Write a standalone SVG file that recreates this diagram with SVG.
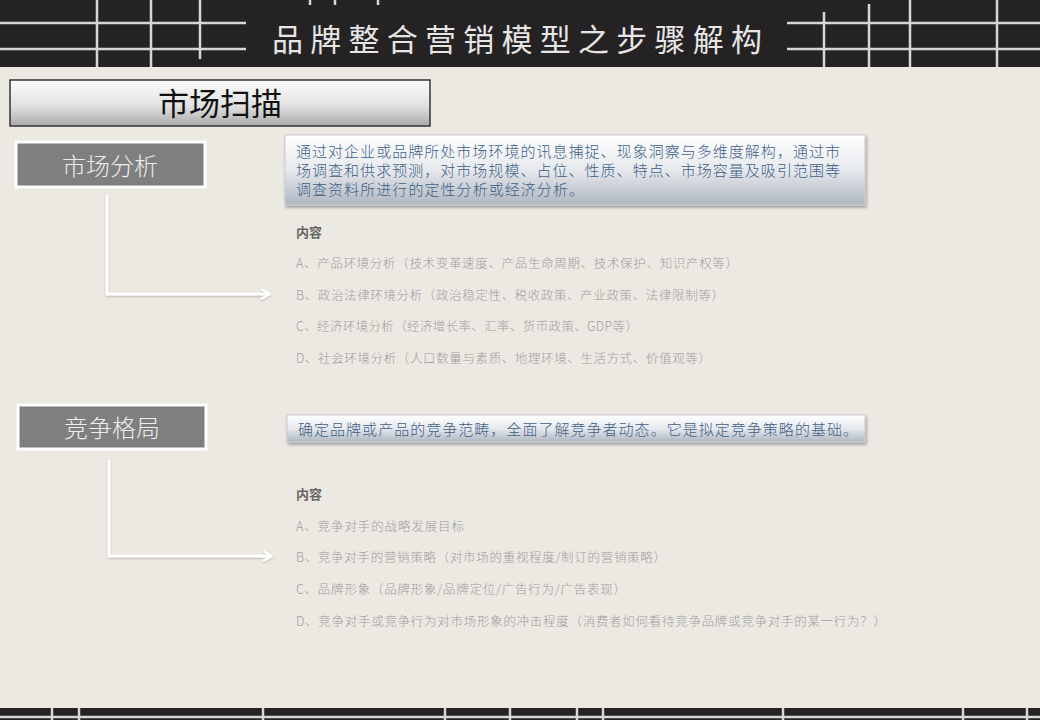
<svg xmlns="http://www.w3.org/2000/svg" width="1040" height="720" viewBox="0 0 1040 720">
<defs>
<style>
.bar{fill:#252224}
.gl{stroke:#d6d6d6;stroke-width:2.5;fill:none}
.cjk{font-family:"Noto Sans CJK SC","Noto Sans",sans-serif}
.node rect{fill:#7f7f7f;stroke:#ffffff;stroke-width:3}
.node text{fill:#ededed;font-size:24px;text-anchor:middle;font-weight:300}
.desc rect{fill:url(#dg);stroke:#c9cdd2;stroke-width:1;filter:url(#sh)}
.desc text{fill:#3f6088;font-size:15px;font-weight:300}
.head{fill:#666666;font-size:13px;font-weight:bold}
.item{fill:#9e9e9e;font-size:12.5px;font-weight:300}
.conn{stroke:#ffffff;stroke-width:2.8;fill:none;marker-end:url(#ah);filter:url(#ls)}
</style>
<linearGradient id="dg" x1="0" y1="0" x2="0" y2="1">
<stop offset="0" stop-color="#ffffff"/>
<stop offset="0.5" stop-color="#e6e9ed"/>
<stop offset="1" stop-color="#aeb6c0"/>
</linearGradient>
<linearGradient id="hg" x1="0" y1="0" x2="0" y2="1">
<stop offset="0" stop-color="#fbfbfb"/>
<stop offset="0.55" stop-color="#e2e2e2"/>
<stop offset="1" stop-color="#a9a9a9"/>
</linearGradient>
<filter id="sh" x="-5%" y="-20%" width="110%" height="150%">
<feDropShadow dx="1" dy="2" stdDeviation="1.5" flood-color="#000" flood-opacity="0.35"/>
</filter>
<filter id="ls" x="-10%" y="-10%" width="120%" height="130%">
<feDropShadow dx="0" dy="1" stdDeviation="0.8" flood-color="#000" flood-opacity="0.25"/>
</filter>
<marker id="ah" viewBox="0 0 12 12" refX="11" refY="6" markerWidth="12" markerHeight="12" markerUnits="userSpaceOnUse" orient="auto">
<path d="M2,1 L11,6 L2,11" fill="none" stroke="#ffffff" stroke-width="2.2"/>
</marker>
</defs>

<rect width="1040" height="720" fill="#ece8e2"/>

<g id="topbar">
<rect class="bar" x="0" y="0" width="1040" height="67"/>
<path class="gl" d="M0,23 H246 M0,49 H246 M97,0 V67 M151,0 V67 M200,0 V59 M787,23 H1040 M787,49 H1040 M824,12 V67 M869,4 V67 M910,0 V67 M997,0 V67"/>
<path class="gl" d="M310,0 V5 M335,0 V5 M378,0 V5" stroke-width="2"/>
<text class="cjk" x="272" y="51" font-size="31" fill="#e6e6e6" textLength="490" lengthAdjust="spacing">品牌整合营销模型之步骤解构</text>
</g>

<g id="bottombar">
<rect class="bar" x="0" y="708" width="1040" height="12"/>
<path class="gl" d="M0,717 H1040 M52,708 V720 M79,708 V720 M263,708 V720 M445,708 V720 M510,708 V720 M577,708 V720 M603,708 V720 M783,708 V720 M963,708 V720 M1027,708 V720" stroke-width="1.5"/>
</g>

<g id="section-header">
<rect x="10" y="80" width="420" height="46" fill="url(#hg)" stroke="#333" stroke-width="1.5"/>
<text class="cjk" x="220" y="115" font-size="31" fill="#111" text-anchor="middle">市场扫描</text>
</g>

<g id="node-market" class="node cjk">
<rect x="16" y="142" width="189" height="45"/>
<text x="110" y="175">市场分析</text>
</g>

<g id="desc-market" class="desc cjk">
<rect x="285" y="135" width="580" height="70"/>
<text x="296" y="157" textLength="544" lengthAdjust="spacing">通过对企业或品牌所处市场环境的讯息捕捉、现象洞察与多维度解构，通过市</text>
<text x="296" y="176" textLength="544" lengthAdjust="spacing">场调查和供求预测，对市场规模、占位、性质、特点、市场容量及吸引范围等</text>
<text x="296" y="195" textLength="288" lengthAdjust="spacing">调查资料所进行的定性分析或经济分析。</text>
</g>

<g id="list-market" class="cjk">
<text class="head" x="296" y="237">内容</text>
<text class="item" x="296" y="268" textLength="442" lengthAdjust="spacing">A、产品环境分析（技术变革速度、产品生命周期、技术保护、知识产权等）</text>
<text class="item" x="296" y="300" textLength="428" lengthAdjust="spacing">B、政治法律环境分析（政治稳定性、税收政策、产业政策、法律限制等）</text>
<text class="item" x="296" y="331" textLength="342" lengthAdjust="spacing">C、经济环境分析（经济增长率、汇率、货币政策、GDP等）</text>
<text class="item" x="296" y="363" textLength="415" lengthAdjust="spacing">D、社会环境分析（人口数量与素质、地理环境、生活方式、价值观等）</text>
</g>

<g id="node-competition" class="node cjk">
<rect x="18" y="405" width="188" height="44"/>
<text x="112" y="437">竞争格局</text>
</g>

<g id="desc-competition" class="desc cjk">
<rect x="287" y="415" width="578" height="27"/>
<text x="298" y="435" textLength="560" lengthAdjust="spacing">确定品牌或产品的竞争范畴，全面了解竞争者动态。它是拟定竞争策略的基础。</text>
</g>

<g id="list-competition" class="cjk">
<text class="head" x="296" y="499">内容</text>
<text class="item" x="296" y="531" textLength="168" lengthAdjust="spacing">A、竞争对手的战略发展目标</text>
<text class="item" x="296" y="562" textLength="370" lengthAdjust="spacing">B、竞争对手的营销策略（对市场的重视程度/制订的营销策略）</text>
<text class="item" x="296" y="594" textLength="330" lengthAdjust="spacing">C、品牌形象（品牌形象/品牌定位/广告行为/广告表现）</text>
<text class="item" x="296" y="626" textLength="590" lengthAdjust="spacing">D、竞争对手或竞争行为对市场形象的冲击程度（消费者如何看待竞争品牌或竞争对手的某一行为？）</text>
</g>

<g id="connectors">
<path class="conn" d="M208,167 H270"/>
<path class="conn" d="M107,195 V294 H270"/>
<path class="conn" d="M210,429 H272"/>
<path class="conn" d="M109,460 V556 H272"/>
</g>
</svg>
